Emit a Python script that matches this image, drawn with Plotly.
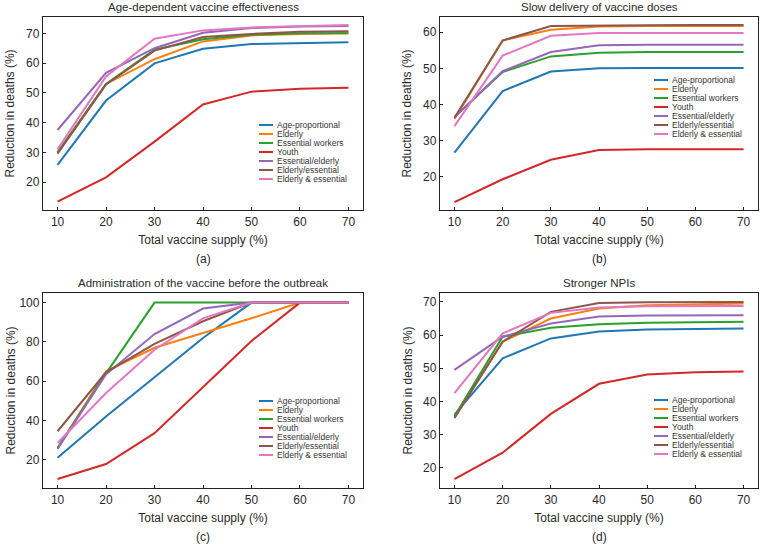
import plotly.graph_objects as go
from plotly.subplots import make_subplots

supply = [10, 20, 30, 40, 50, 60, 70]
strategies = ["Age-proportional", "Elderly", "Essential workers", "Youth",
              "Essential/elderly", "Elderly/essential", "Elderly & essential"]
colors = ["#1f77b4", "#ff7f0e", "#2ca02c", "#d62728", "#9467bd", "#8c564b", "#e377c2"]

# (a) Age-dependent vaccine effectiveness
a_age = [25.8, 47.4, 59.9, 64.8, 66.4, 66.8, 67.0]
a_eld = [30.0, 53.0, 61.3, 67.3, 69.3, 69.8, 70.0]
a_ess = [30.0, 53.0, 64.5, 68.0, 69.5, 70.0, 70.0]
a_you = [13.4, 21.6, 33.6, 46.1, 50.4, 51.4, 51.7]
a_ee = [37.5, 56.7, 65.0, 70.2, 71.8, 72.3, 72.5]
a_el = [29.5, 52.8, 64.2, 68.8, 69.8, 70.5, 70.7]
a_et = [31.0, 55.5, 68.2, 71.0, 72.0, 72.5, 72.8]

# (b) Slow delivery of vaccine doses
b_age = [26.7, 43.7, 49.1, 50.0, 50.1, 50.1, 50.1]
b_eld = [36.0, 57.7, 60.7, 61.6, 61.7, 61.7, 61.7]
b_ess = [36.5, 49.0, 53.3, 54.3, 54.5, 54.5, 54.5]
b_you = [13.0, 19.3, 24.7, 27.4, 27.6, 27.6, 27.6]
b_ee = [36.5, 49.2, 54.5, 56.4, 56.5, 56.5, 56.5]
b_el = [36.3, 57.7, 61.7, 61.9, 61.9, 62.0, 62.0]
b_et = [34.0, 53.5, 59.0, 59.8, 59.8, 59.8, 59.8]

# (c) Administration of the vaccine before the outbreak
c_age = [21.0, 42.0, 62.0, 82.0, 100.0, 100.0, 100.0]
c_eld = [26.0, 65.0, 77.0, 84.5, 92.0, 100.0, 100.0]
c_ess = [26.0, 64.0, 100.0, 100.0, 100.0, 100.0, 100.0]
c_you = [10.2, 17.8, 33.5, 57.0, 80.5, 100.0, 100.0]
c_ee = [25.5, 63.5, 84.0, 97.0, 100.0, 100.0, 100.0]
c_el = [34.5, 64.5, 79.0, 90.5, 100.0, 100.0, 100.0]
c_et = [28.5, 54.0, 76.0, 92.0, 100.0, 100.0, 100.0]

# (d) Stronger NPIs
d_age = [36.0, 53.0, 59.0, 61.1, 61.7, 61.9, 62.0]
d_eld = [35.0, 58.0, 65.0, 68.0, 69.0, 69.3, 69.5]
d_ess = [35.5, 59.5, 62.2, 63.3, 63.7, 63.9, 64.0]
d_you = [16.5, 24.5, 36.2, 45.3, 48.1, 48.8, 49.0]
d_ee = [49.5, 59.5, 63.5, 65.6, 65.9, 66.0, 66.0]
d_el = [35.0, 58.0, 67.0, 69.7, 69.9, 70.0, 70.0]
d_et = [42.5, 60.5, 66.7, 68.3, 68.7, 68.8, 68.8]

panels = [
    ("Age-dependent vaccine effectiveness", "(a)", [a_age, a_eld, a_ess, a_you, a_ee, a_el, a_et], [10.6, 75.5], [20, 30, 40, 50, 60, 70]),
    ("Slow delivery of vaccine doses", "(b)", [b_age, b_eld, b_ess, b_you, b_ee, b_el, b_et], [10.8, 64.2], [20, 30, 40, 50, 60]),
    ("Administration of the vaccine before the outbreak", "(c)", [c_age, c_eld, c_ess, c_you, c_ee, c_el, c_et], [5.6, 104.9], [20, 40, 60, 80, 100]),
    ("Stronger NPIs", "(d)", [d_age, d_eld, d_ess, d_you, d_ee, d_el, d_et], [13.85, 72.7], [20, 30, 40, 50, 60, 70]),
]

W, H = 760, 544
xdoms = [[43 / W, 363 / W], [440 / W, 758 / W]]
ydoms = [[1 - 210 / H, 1 - 17 / H], [1 - 488 / H, 1 - 293 / H]]
ytitle_x = [10 / W, 407 / W]
legend_top = [108, 63, 108, 107]

fig = make_subplots(rows=2, cols=2)
FONT = "Liberation Sans, Arial, sans-serif"
TXT = "#2a2a2a"
annotations = []
shapes = []

for i, (title, label, series, yr, yt) in enumerate(panels):
    r, c = i // 2 + 1, i % 2 + 1
    for name, col, vals in zip(strategies, colors, series):
        fig.add_trace(go.Scatter(x=supply, y=vals, mode="lines", name=name,
                                 line=dict(color=col, width=2), showlegend=False),
                      row=r, col=c)
    ax = "" if i == 0 else str(i + 1)
    xd, yd = xdoms[c - 1], ydoms[r - 1]
    fig.update_xaxes(domain=xd, range=[7, 73], tickvals=supply, ticks="inside", ticklen=3,
                     showline=True, mirror=True, linecolor="#222", linewidth=1.3,
                     tickcolor="#222", showgrid=False, zeroline=False, automargin=False,
                     tickfont=dict(size=12, color=TXT, family=FONT),
                     title=dict(text="Total vaccine supply (%)", standoff=8,
                                font=dict(size=12, color=TXT, family=FONT)),
                     row=r, col=c)
    fig.update_yaxes(domain=yd, range=yr, tickvals=yt, ticks="inside", ticklen=3,
                     showline=True, mirror=True, linecolor="#222", linewidth=1.3,
                     tickcolor="#222", showgrid=False, zeroline=False, automargin=False,
                     tickfont=dict(size=12, color=TXT, family=FONT),
                     row=r, col=c)
    xm = (xd[0] + xd[1]) / 2
    annotations.append(dict(text="Reduction in deaths (%)", x=ytitle_x[c - 1], xref="paper",
                            y=(yd[0] + yd[1]) / 2, yref="paper", textangle=-90,
                            xanchor="center", yanchor="middle", showarrow=False,
                            font=dict(size=12, color=TXT, family=FONT)))
    annotations.append(dict(text=title, x=xm, xref="paper", y=yd[1], yref="paper",
                            xanchor="center", yanchor="bottom", yshift=2, showarrow=False,
                            font=dict(size=11.5, color=TXT, family=FONT)))
    annotations.append(dict(text=label, x=xm, xref="paper", y=yd[0], yref="paper",
                            xanchor="center", yanchor="top", yshift=-40, showarrow=False,
                            font=dict(size=12, color=TXT, family=FONT)))
    # compact legend in the lower right of each panel
    xdom_ref = "x" + ax + " domain"
    ydom_ref = "y" + ax + " domain"
    ph = (yd[1] - yd[0]) * H
    pw = (xd[1] - xd[0]) * W
    lx0 = 1 - 104 / pw
    for k, (name, col) in enumerate(zip(strategies, colors)):
        yy = 1 - (legend_top[i] + 9 * k) / ph
        shapes.append(dict(type="line", xref=xdom_ref, yref=ydom_ref,
                           x0=lx0, x1=lx0 + 14 / pw, y0=yy, y1=yy,
                           line=dict(color=col, width=2)))
        annotations.append(dict(text=name, xref=xdom_ref, yref=ydom_ref,
                                x=lx0 + 16 / pw, y=yy, xanchor="left", yanchor="middle",
                                showarrow=False,
                                font=dict(size=8.5, color="#333", family=FONT)))

fig.update_layout(width=W, height=H, margin=dict(l=0, r=0, t=0, b=0),
                  paper_bgcolor="white", plot_bgcolor="white",
                  annotations=annotations, shapes=shapes, showlegend=False,
                  font=dict(family=FONT, color=TXT))
fig.write_html("out.html", config={"displayModeBar": False},
               post_script="document.body.style.margin='0';document.body.style.overflow='hidden';")
